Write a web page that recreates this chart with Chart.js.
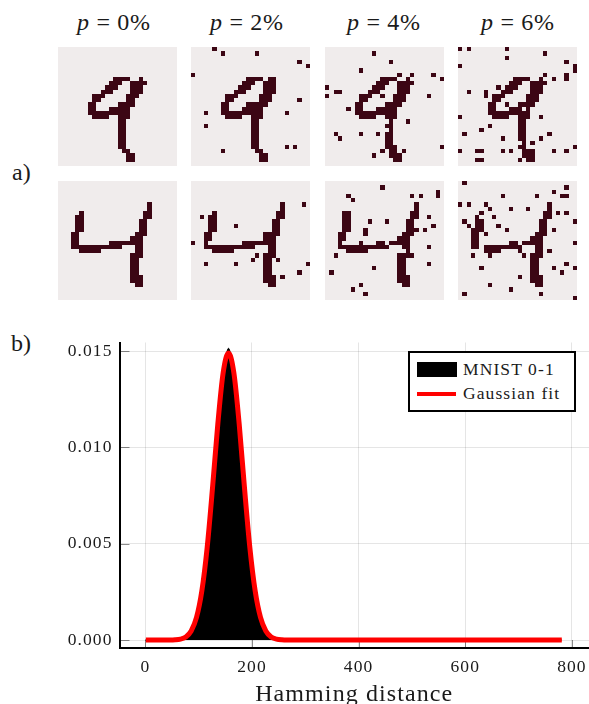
<!DOCTYPE html>
<html>
<head>
<meta charset="utf-8">
<script src="https://cdn.jsdelivr.net/npm/chart.js@4"></script>
<style>
html, body { margin: 0; padding: 0; background: #fff; overflow: hidden; }
body { width: 589px; height: 704px; position: relative; font-family: "Liberation Serif", serif; color: #1a1a1a; }
canvas { position: absolute; display: block; }
.heat { background: #f0ecec; }
.label { position: absolute; white-space: nowrap; line-height: 1; }
.title { font-size: 24px; top: 10px; letter-spacing: .7px; }
.part { font-size: 24px; }
#legend { position: absolute; left: 408px; top: 351px; width: 164px; height: 57px; border: 2px solid #000; background: #fff; font-size: 17.5px; letter-spacing: 1.1px; }
#legend .sw { position: absolute; left: 7px; }
#legend .txt { position: absolute; left: 53px; white-space: nowrap; line-height: 1; }
</style>
</head>
<body>
<div class="label part" style="left:12px;top:160px">a)</div>
<div class="label part" style="left:11px;top:331px">b)</div>
<canvas id="density" width="589" height="379" style="left:0;top:330px"></canvas>
<div id="legend"></div>
<script>
// hamming distance histogram and its fit
const histX = [0, 46, 56, 66, 76, 86, 96, 106, 116, 126, 136, 146, 151, 156, 161, 166, 176, 186, 196, 206, 216, 226, 236, 246, 256, 781];
const histY = [0, 0, 0, 0.00002, 0.00011, 0.00043, 0.00114, 0.00252, 0.00478, 0.00786, 0.01120, 0.01385, 0.01470, 0.01515, 0.01470, 0.01385, 0.01118, 0.00782, 0.00476, 0.00250, 0.00113, 0.00044, 0.00014, 0.00004, 0, 0];
const fitX = [1, 46, 56, 66, 76, 86, 96, 106, 116, 126, 136, 146, 156, 166, 176, 186, 196, 206, 216, 226, 236, 246, 256, 266, 781];
const fitY = [0, 0, 0.00001, 0.00005, 0.00016, 0.00047, 0.00117, 0.00255, 0.00481, 0.00789, 0.01123, 0.01388, 0.01490, 0.01388, 0.01123, 0.00789, 0.00481, 0.00255, 0.00117, 0.00047, 0.00016, 0.00005, 0.00001, 0, 0];
const xTicks = [0, 200, 400, 600, 800];
const yTicks = [0, 0.005, 0.010, 0.015];

// digit images as [row, first col, last col] runs on the 28x28 grid
const nineRuns = [[7,13,16],[7,19,19],[8,12,14],[8,17,20],[9,11,13],[9,17,19],[10,10,12],[10,17,19],[11,8,10],[11,16,18],[12,8,9],[12,16,17],[13,7,8],[13,14,17],[14,7,8],[14,12,16],[15,7,16],[16,8,11],[16,14,16],[17,14,15],[18,14,15],[19,14,15],[20,14,15],[21,14,15],[22,14,15],[23,14,15],[24,15,16],[25,16,17],[26,16,17]];
const fourRuns = [[5,21,21],[6,21,21],[7,5,5],[7,20,21],[8,4,5],[8,20,21],[9,4,5],[9,19,20],[10,4,5],[10,19,20],[11,4,5],[11,19,20],[12,3,4],[12,18,20],[13,3,4],[13,17,19],[14,3,4],[14,12,19],[15,3,14],[15,18,19],[16,5,9],[16,18,19],[17,17,19],[18,17,18],[19,17,18],[20,17,18],[21,17,18],[22,17,19],[23,17,19],[24,18,19]];

// flipped pixels [row, col] for each noise level
const nineFlips0 = [];
const nineFlips2 = [[0,5],[1,7],[1,15],[3,25],[4,27],[6,0],[7,18],[8,20],[12,18],[12,25],[13,13],[15,3],[15,22],[18,3],[23,22],[23,24],[24,7]];
const nineFlips4 = [[1,11],[3,15],[5,8],[6,17],[6,20],[6,25],[7,27],[9,0],[10,2],[10,3],[11,0],[11,13],[11,24],[12,18],[14,5],[17,14],[17,19],[19,14],[20,2],[20,8],[20,12],[21,3],[23,16],[23,27],[24,13],[24,18],[25,11],[25,15]];
const nineFlips6 = [[0,0],[0,2],[0,11],[1,20],[2,11],[3,25],[4,0],[4,27],[5,27],[6,20],[6,25],[7,22],[7,25],[9,9],[10,2],[10,6],[11,6],[12,18],[13,11],[14,15],[16,0],[16,19],[18,7],[19,5],[20,1],[20,21],[21,10],[21,19],[22,14],[22,17],[23,27],[24,0],[24,4],[24,5],[24,10],[24,12],[24,17],[24,22],[24,25],[25,15],[26,4],[26,5],[26,14]];
const fourFlips0 = [];
const fourFlips2 = [[5,26],[8,2],[10,10],[12,17],[14,0],[14,4],[17,15],[18,14],[18,20],[19,3],[19,10],[19,27],[21,25],[22,21]];
const fourFlips4 = [[1,13],[2,26],[3,5],[3,20],[3,22],[3,26],[4,6],[7,4],[8,24],[9,10],[9,14],[10,25],[11,9],[11,21],[11,23],[12,9],[14,4],[14,8],[14,14],[15,24],[16,18],[17,2],[17,20],[19,24],[20,11],[21,1],[24,8],[25,6],[26,9]];
const fourFlips6 = [[0,1],[1,25],[2,22],[3,10],[3,18],[3,24],[3,25],[5,0],[5,2],[5,6],[6,7],[6,12],[6,16],[7,23],[7,25],[8,5],[8,8],[9,1],[9,27],[10,2],[10,9],[11,3],[11,11],[11,22],[12,6],[14,14],[14,27],[15,5],[16,5],[16,14],[16,21],[17,3],[17,7],[17,15],[19,25],[20,5],[20,22],[20,27],[21,24],[22,14],[24,7],[25,12],[26,1],[26,19],[27,27]];

const panelTitles = ['0%', '2%', '4%', '6%'];
const titleLeft = [77, 210, 347, 481];
const panelLeft = [58, 191, 325, 458];
const panelTop = [47, 181];
const digitRows = [
    { runs: nineRuns, flips: [nineFlips0, nineFlips2, nineFlips4, nineFlips6] },
    { runs: fourRuns, flips: [fourFlips0, fourFlips2, fourFlips4, fourFlips6] }
];

function cellsFor(runs, flips) {
    const on = new Set();
    runs.forEach(([r, a, b]) => { for (let c = a; c <= b; c++) on.add(r * 28 + c); });
    flips.forEach(([r, c]) => {
        const k = r * 28 + c;
        if (on.has(k)) on.delete(k); else on.add(k);
    });
    return [...on].map(k => ({ x: k % 28 + 0.5, y: Math.floor(k / 28) + 0.5 }));
}

// fills each dataset cell on whole pixels so neighbours leave no seams
const pixelCells = {
    id: 'pixelCells',
    afterDatasetsDraw(chart) {
        const { ctx, scales } = chart;
        ctx.save();
        ctx.fillStyle = chart.data.datasets[0].backgroundColor;
        chart.data.datasets[0].data.forEach(cell => {
            const x0 = Math.round(scales.x.getPixelForValue(cell.x - 0.5));
            const x1 = Math.round(scales.x.getPixelForValue(cell.x + 0.5));
            const y0 = Math.round(scales.y.getPixelForValue(cell.y - 0.5));
            const y1 = Math.round(scales.y.getPixelForValue(cell.y + 0.5));
            ctx.fillRect(x0, y0, x1 - x0, y1 - y0);
        });
        ctx.restore();
    }
};

panelTitles.forEach((t, i) => {
    const d = document.createElement('div');
    d.className = 'label title';
    d.style.left = titleLeft[i] + 'px';
    d.innerHTML = '<i>p</i> = ' + t;
    document.body.appendChild(d);
});

digitRows.forEach((digit, row) => {
    digit.flips.forEach((flips, col) => {
        const cv = document.createElement('canvas');
        cv.className = 'heat';
        cv.width = 119;
        cv.height = 119;
        cv.style.left = panelLeft[col] + 'px';
        cv.style.top = panelTop[row] + 'px';
        document.body.appendChild(cv);
        new Chart(cv.getContext('2d'), {
            type: 'scatter',
            data: {
                datasets: [{
                    data: cellsFor(digit.runs, flips),
                    pointRadius: 0,
                    backgroundColor: '#3c0614'
                }]
            },
            options: {
                responsive: false,
                animation: false,
                layout: { padding: 0, autoPadding: false },
                plugins: { legend: { display: false }, tooltip: { enabled: false } },
                scales: {
                    x: { type: 'linear', min: 0, max: 28, display: false },
                    y: { type: 'linear', min: 0, max: 28, reverse: true, display: false }
                }
            },
            plugins: [pixelCells]
        });
    });
});

// Plots.jl style short ticks pointing into the plot
const innerTicks = {
    id: 'innerTicks',
    beforeDraw(chart) {
        chart.ctx.letterSpacing = '1.1px';
    },
    beforeDatasetsDraw(chart) {
        const { ctx, chartArea, scales } = chart;
        ctx.save();
        ctx.strokeStyle = 'rgba(0,0,0,0.45)';
        ctx.lineWidth = 1;
        ctx.beginPath();
        xTicks.forEach(v => {
            const px = Math.round(scales.x.getPixelForValue(v)) + 0.5;
            ctx.moveTo(px, chartArea.bottom);
            ctx.lineTo(px, chartArea.bottom - 8);
        });
        yTicks.forEach(v => {
            const py = Math.round(scales.y.getPixelForValue(v)) + 0.5;
            ctx.moveTo(chartArea.left, py);
            ctx.lineTo(chartArea.left + 10, py);
        });
        ctx.stroke();
        ctx.restore();
    }
};

const tickFont = { family: '"Liberation Serif", serif', size: 17.5 };

const densityChart = new Chart(document.getElementById('density').getContext('2d'), {
    type: 'line',
    data: {
        datasets: [{
            label: 'Gaussian fit',
            data: fitX.map((x, i) => ({ x: x, y: fitY[i] })),
            borderColor: '#ff0000',
            borderWidth: 5,
            pointRadius: 0,
            cubicInterpolationMode: 'monotone',
            order: 1
        }, {
            label: 'MNIST 0-1',
            data: histX.map((x, i) => ({ x: x, y: histY[i] })),
            borderColor: '#000',
            backgroundColor: '#000',
            borderWidth: 1,
            pointRadius: 0,
            fill: 'origin',
            cubicInterpolationMode: 'monotone',
            order: 2
        }]
    },
    options: {
        responsive: false,
        animation: false,
        layout: { padding: { top: 12.5, left: 0, right: 0, bottom: 0 }, autoPadding: false },
        plugins: { legend: { display: false }, tooltip: { enabled: false } },
        scales: {
            x: {
                type: 'linear',
                min: -48.4,
                max: 832,
                afterFit(s) { s.height = 61; s.paddingLeft = 0; s.paddingRight = 0; },
                afterBuildTicks(s) { s.ticks = xTicks.map(v => ({ value: v })); },
                border: { color: '#000', width: 2 },
                grid: { color: 'rgba(0,0,0,0.1)', drawTicks: false },
                ticks: { color: '#1a1a1a', font: tickFont, padding: 9, maxRotation: 0 },
                title: {
                    display: true,
                    text: 'Hamming distance',
                    color: '#1a1a1a',
                    font: { family: '"Liberation Serif", serif', size: 24 },
                    padding: { top: 0, bottom: 0 }
                }
            },
            y: {
                type: 'linear',
                min: -0.000415,
                max: 0.01545,
                afterFit(s) { s.width = 119.5; s.paddingTop = 0; s.paddingBottom = 0; },
                afterBuildTicks(s) { s.ticks = yTicks.map(v => ({ value: v })); },
                border: { color: '#000', width: 2 },
                grid: { color: 'rgba(0,0,0,0.1)', drawTicks: false },
                ticks: {
                    color: '#1a1a1a',
                    font: tickFont,
                    padding: 7,
                    callback: v => v.toFixed(3)
                }
            }
        }
    },
    plugins: [innerTicks]
});

// legend box sits inside the plot, entries taken from the chart's datasets
const legend = document.getElementById('legend');
const [fitSet, histSet] = densityChart.data.datasets;
legend.innerHTML =
    '<div class="sw" style="top:9px;width:40px;height:15px;background:' + histSet.backgroundColor + '"></div>' +
    '<div class="txt" style="top:8px">' + histSet.label + '</div>' +
    '<div class="sw" style="top:39px;width:39px;height:4px;background:' + fitSet.borderColor + '"></div>' +
    '<div class="txt" style="top:32px">' + fitSet.label + '</div>';
</script>
</body>
</html>
